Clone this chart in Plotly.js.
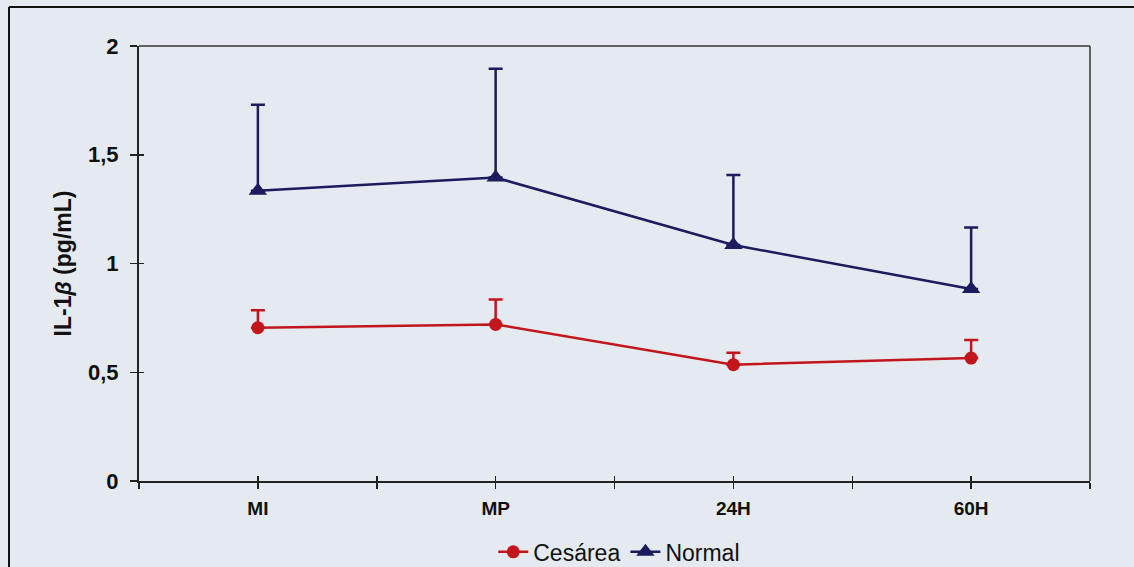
<!DOCTYPE html>
<html>
<head>
<meta charset="utf-8">
<script src="https://cdn.plot.ly/plotly-3.0.1.min.js"></script>
<style>
html,body{margin:0;padding:0;background:#e4eaef;}
#chart{width:1134px;height:567px;}
</style>
</head>
<body>
<div id="chart"></div>
<script>
var categories = ['MI', 'MP', '24H', '60H'];
var cesareaMean = [0.705, 0.72, 0.535, 0.565];
var cesareaErr = [0.08, 0.115, 0.055, 0.083];
var normalMean = [1.335, 1.395, 1.085, 0.883];
var normalErr = [0.395, 0.5, 0.322, 0.282];
var yTicks = [0, 0.5, 1, 1.5, 2];

var xPos = categories.map(function (c, i) { return i + 0.5; });
var tickVals = [], tickText = [];
for (var i = 0; i <= categories.length * 2; i++) {
  tickVals.push(i / 2);
  tickText.push(i % 2 === 1 ? categories[(i - 1) / 2] : '');
}

var navy = '#1b1b5e';
var red = '#c3161c';

var traces = [
  {
    x: xPos, y: cesareaMean, name: 'Cesárea', type: 'scatter', mode: 'lines+markers',
    line: {color: red, width: 2.5},
    marker: {symbol: 'circle', size: 13, color: red},
    error_y: {type: 'data', array: cesareaErr, arrayminus: cesareaMean.map(function(){return 0;}), symmetric: false,
      color: red, thickness: 2.5, width: 7},
    cliponaxis: false
  },
  {
    x: xPos, y: normalMean, name: 'Normal', type: 'scatter', mode: 'lines+markers',
    line: {color: navy, width: 2.5},
    marker: {symbol: 'triangle-up', size: 16, color: navy},
    error_y: {type: 'data', array: normalErr, arrayminus: normalMean.map(function(){return 0;}), symmetric: false,
      color: navy, thickness: 2.5, width: 7},
    cliponaxis: false
  }
];

var layout = {
  width: 1134, height: 567,
  paper_bgcolor: '#e4eaef', plot_bgcolor: '#e4eaef',
  separators: ',.',
  margin: {l: 139, r: 44, t: 46, b: 86, autoexpand: false},
  font: {family: 'Liberation Sans, Arial, sans-serif', color: '#111'},
  showlegend: true,
  legend: {orientation: 'h', x: 0.505, xanchor: 'center', y: -0.163, yanchor: 'middle',
    font: {size: 23, color: '#111'}, bgcolor: 'rgba(0,0,0,0)', itemwidth: 30, tracegroupgap: 0},
  xaxis: {
    range: [0, 4], tickmode: 'array', tickvals: tickVals, ticktext: tickText,
    showgrid: false, zeroline: false, showline: true, linecolor: '#222', linewidth: 2,
    ticks: 'outside', ticklen: 6, tickwidth: 1.5, tickcolor: '#222',
    tickfont: {size: 19, color: '#111', weight: 'bold'}, ticklabelstandoff: 3,
    mirror: false, fixedrange: true
  },
  xaxis2: {
    overlaying: 'x', matches: 'x', range: [0, 4], tickmode: 'array', tickvals: tickVals,
    showticklabels: false, showgrid: false, zeroline: false, showline: false,
    ticks: 'inside', ticklen: 5, tickwidth: 1.5, tickcolor: '#222', side: 'bottom'
  },
  yaxis: {
    range: [0, 2], tickmode: 'array', tickvals: yTicks,
    showgrid: false, zeroline: false, showline: true, linecolor: '#222', linewidth: 2,
    ticks: 'outside', ticklen: 7, tickwidth: 1.5, tickcolor: '#222',
    tickfont: {size: 22, color: '#111', weight: 'bold'}, ticklabelstandoff: 7,
    title: {text: 'IL-1<i>β</i> (pg/mL)', font: {size: 23, color: '#111', weight: 'bold'}, standoff: 10},
    fixedrange: true
  },
  yaxis2: {
    overlaying: 'y', matches: 'y', range: [0, 2], tickmode: 'array', tickvals: yTicks,
    showticklabels: false, showgrid: false, zeroline: false, showline: false,
    ticks: 'inside', ticklen: 5, tickwidth: 1.5, tickcolor: '#222', side: 'left'
  },
  shapes: [
    {type: 'line', xref: 'paper', yref: 'paper', x0: 0, x1: 1, y0: 1, y1: 1, line: {color: '#333', width: 1.5}},
    {type: 'line', xref: 'paper', yref: 'paper', x0: 1, x1: 1, y0: 0, y1: 1, line: {color: '#333', width: 1.5}},
    {type: 'line', xref: 'paper', yref: 'paper', x0: -130/951, x1: -130/951, y0: -0.3, y1: 1 + 39/435, line: {color: '#111', width: 2}},
    {type: 'line', xref: 'paper', yref: 'paper', x0: -130/951, x1: 1.1, y0: 1 + 39/435, y1: 1 + 39/435, line: {color: '#111', width: 2}}
  ]
};

var dummy = [
  {x: [0], y: [0], xaxis: 'x2', yaxis: 'y2', mode: 'markers', marker: {opacity: 0}, showlegend: false, hoverinfo: 'skip'}
];

Plotly.newPlot('chart', traces.concat(dummy), layout, {displayModeBar: false, staticPlot: true});
</script>
</body>
</html>
